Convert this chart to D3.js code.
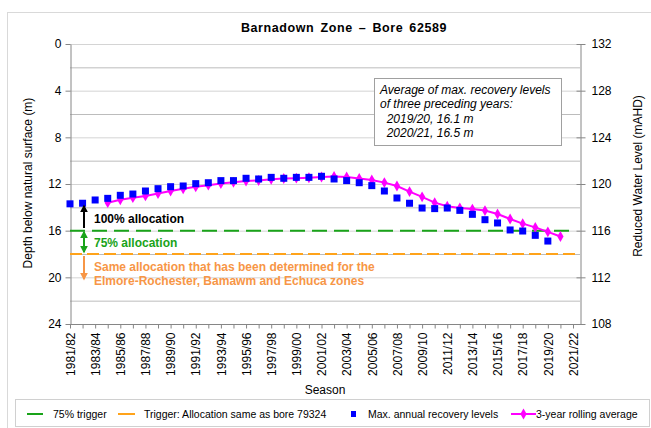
<!DOCTYPE html>
<html>
<head>
<meta charset="utf-8">
<script src="https://cdn.jsdelivr.net/npm/d3@7"></script>
<style>
  body { margin: 0; background: #fff; }
  svg { font-family: "Liberation Sans", Arial, sans-serif; }
</style>
</head>
<body>
<div id="chart"></div>
<script>
// seasons on the category axis
var seasons = ["1981/82","1982/83","1983/84","1984/85","1985/86","1986/87","1987/88","1988/89",
  "1989/90","1990/91","1991/92","1992/93","1993/94","1994/95","1995/96","1996/97","1997/98",
  "1998/99","1999/00","2000/01","2001/02","2002/03","2003/04","2004/05","2005/06","2006/07",
  "2007/08","2008/09","2009/10","2010/11","2011/12","2012/13","2013/14","2014/15","2015/16",
  "2016/17","2017/18","2018/19","2019/20","2020/21","2021/22"];

// max. annual recovery levels, depth below natural surface (m), 1981/82 - 2019/20
var maxRecovery = [13.7,13.65,13.37,13.23,12.97,12.86,12.6,12.4,12.23,12.17,11.97,11.89,11.71,
  11.71,11.51,11.57,11.43,11.51,11.43,11.43,11.34,11.57,11.71,11.89,12.14,12.6,13.2,13.65,
  14.06,14.11,14.06,14.26,14.6,15.06,15.34,15.94,16.03,16.4,16.89];

// 3-year rolling average (m), starts 1984/85, ends 2020/21
var rollingAvg = [null,null,null,13.6,13.35,13.17,13.02,12.81,12.6,12.41,12.24,12.1,11.96,11.86,
  11.75,11.7,11.6,11.53,11.5,11.46,11.4,11.35,11.4,11.52,11.66,11.88,12.17,12.65,13.1,13.6,
  13.9,14.06,14.15,14.28,14.57,15.0,15.4,15.72,16.1,16.5];

var trigger75 = 16;
var triggerSame = 18;

var depthTicks = [0,4,8,12,16,20,24];
var depthGrid = [0,2,4,6,8,10,12,14,16,18,20,22,24];
var rwlTicks = [132,128,124,120,116,112,108];
var boxLines = ["Average of max. recovery levels", "of three preceding years:", "  2019/20, 16.1 m", "  2020/21, 16.5 m"];

var W = 651, H = 428;
var plotL = 70, plotR = 580, plotT = 44, plotB = 324;

var svg = d3.select("#chart").append("svg")
  .attr("width", W)
  .attr("height", H);

// outer chart border
svg.append("rect")
  .attr("x", 7.5).attr("y", 12.5)
  .attr("width", 700).attr("height", 500)
  .attr("fill", "#fff")
  .attr("stroke", "#d9d9d9");

var x = d3.scalePoint()
  .domain(seasons)
  .range([plotL, 573]);

var y = d3.scaleLinear()
  .domain([0, 24])
  .range([plotT, plotB]);

var y2 = d3.scaleLinear()
  .domain([132, 108])
  .range([plotT, plotB]);

// gridlines
svg.append("g")
  .selectAll("line")
  .data(depthGrid)
  .enter()
  .append("line")
  .attr("x1", plotL).attr("x2", plotR)
  .attr("y1", function(d) { return y(d) + 0.5; })
  .attr("y2", function(d) { return y(d) + 0.5; })
  .attr("stroke", function(d) { return d % 4 === 0 ? "#d4d4d4" : "#bcbcbc"; })
  .attr("stroke-width", 1);

// left axis
var gl = svg.append("g")
  .attr("transform", "translate(" + (plotL + 0.5) + ",0)")
  .call(d3.axisLeft(y).tickValues(depthTicks).tickSize(5).tickSizeOuter(0).tickPadding(4));
gl.selectAll("text").style("font-size", "12px").attr("fill", "#000");

// right axis
var gr = svg.append("g")
  .attr("transform", "translate(" + (plotR + 0.5) + ",0)")
  .call(d3.axisRight(y2).tickValues(rwlTicks).tickSize(5).tickSizeOuter(0).tickPadding(6));
gr.selectAll("text").style("font-size", "12px").attr("fill", "#000");
gr.selectAll(".tick line").attr("x1", -4);

// bottom axis
var gb = svg.append("g")
  .attr("transform", "translate(0," + (plotB + 0.5) + ")")
  .call(d3.axisBottom(x).tickSize(4).tickSizeOuter(0)
    .tickFormat(function(d, i) { return i % 2 === 0 ? d : ""; }));
gb.select(".domain").attr("d", "M" + plotL + ",0H" + plotR);
gb.selectAll("text")
  .style("font-size", "12px")
  .attr("fill", "#000")
  .attr("transform", "rotate(-90)")
  .attr("x", -8)
  .attr("y", 0)
  .attr("dy", "0.35em")
  .style("text-anchor", "end");

svg.selectAll(".domain").attr("stroke", "#868686");
svg.selectAll(".tick line").attr("stroke", "#868686");

// trigger lines
svg.append("line")
  .attr("x1", plotL).attr("x2", 575)
  .attr("y1", y(triggerSame)).attr("y2", y(triggerSame))
  .attr("stroke", "#ffa31a").attr("stroke-width", 2)
  .attr("stroke-dasharray", "12,5");
svg.append("line")
  .attr("x1", plotL).attr("x2", 575)
  .attr("y1", y(trigger75)).attr("y2", y(trigger75))
  .attr("stroke", "#19a319").attr("stroke-width", 2)
  .attr("stroke-dasharray", "15,7");

// rolling average line
var line = d3.line()
  .defined(function(d) { return d !== null; })
  .x(function(d, i) { return x(seasons[i]); })
  .y(function(d) { return y(d); });

svg.append("path")
  .datum(rollingAvg)
  .attr("fill", "none")
  .attr("stroke", "#ff00ff")
  .attr("stroke-width", 2)
  .attr("d", line);

var diamond = d3.symbol().type(d3.symbolDiamond).size(34);

svg.append("g")
  .selectAll("path")
  .data(rollingAvg.map(function(d, i) { return {v: d, s: seasons[i]}; })
    .filter(function(d) { return d.v !== null; }))
  .enter()
  .append("path")
  .attr("d", diamond)
  .attr("fill", "#ff00ff")
  .attr("transform", function(d) { return "translate(" + x(d.s) + "," + y(d.v) + ")"; });

// max recovery squares
svg.append("g")
  .selectAll("rect")
  .data(maxRecovery)
  .enter()
  .append("rect")
  .attr("x", function(d, i) { return x(seasons[i]) - 3.5; })
  .attr("y", function(d) { return y(d) - 3.5; })
  .attr("width", 7)
  .attr("height", 7)
  .attr("fill", "#0000ff");

// arrows
var defs = svg.append("defs");
function marker(id, color) {
  defs.append("marker")
    .attr("id", id)
    .attr("viewBox", "0 0 10 10")
    .attr("refX", 8).attr("refY", 5)
    .attr("markerWidth", 4).attr("markerHeight", 4)
    .attr("orient", "auto-start-reverse")
    .append("path")
    .attr("d", "M0,0L10,5L0,10z")
    .attr("fill", color);
}
marker("ahBlack", "#000");
marker("ahGreen", "#19a319");
marker("ahOrange", "#f79646");

var ax = 84;
svg.append("line")
  .attr("x1", ax).attr("x2", ax)
  .attr("y1", 228).attr("y2", 206)
  .attr("stroke", "#000").attr("stroke-width", 2)
  .attr("marker-end", "url(#ahBlack)");
svg.append("line")
  .attr("x1", ax).attr("x2", ax)
  .attr("y1", 232).attr("y2", 252)
  .attr("stroke", "#19a319").attr("stroke-width", 2)
  .attr("marker-start", "url(#ahGreen)")
  .attr("marker-end", "url(#ahGreen)");
svg.append("line")
  .attr("x1", ax).attr("x2", ax)
  .attr("y1", 256).attr("y2", 279)
  .attr("stroke", "#f79646").attr("stroke-width", 2)
  .attr("marker-end", "url(#ahOrange)");

var ann = svg.append("g")
  .style("font-size", "12px")
  .style("font-weight", "bold");
ann.append("text").attr("x", 94).attr("y", 223).attr("fill", "#000").text("100% allocation");
ann.append("text").attr("x", 94).attr("y", 247).attr("fill", "#19a319").text("75% allocation");
ann.append("text").attr("x", 94).attr("y", 271).attr("fill", "#f79646")
  .text("Same allocation that has been determined for the");
ann.append("text").attr("x", 94).attr("y", 285).attr("fill", "#f79646")
  .text("Elmore-Rochester, Bamawm and Echuca zones");

// text box
svg.append("rect")
  .attr("x", 374.5).attr("y", 78.5)
  .attr("width", 187).attr("height", 67)
  .attr("fill", "#fff")
  .attr("stroke", "#a0a0a0");
svg.append("g")
  .selectAll("text")
  .data(boxLines)
  .enter()
  .append("text")
  .attr("x", 380)
  .attr("y", function(d, i) { return 94 + i * 14.4; })
  .style("font-size", "12px")
  .style("font-style", "italic")
  .style("white-space", "pre")
  .attr("xml:space", "preserve")
  .text(function(d) { return d; });

// title
svg.append("text")
  .attr("x", 344).attr("y", 32)
  .style("text-anchor", "middle")
  .style("font-size", "12.5px")
  .style("font-weight", "bold")
  .style("letter-spacing", "0.6px")
  .style("word-spacing", "2px")
  .text("Barnadown Zone \u2013 Bore 62589");

// axis titles
svg.append("text")
  .attr("transform", "translate(32," + 183 + ") rotate(-90)")
  .style("text-anchor", "middle")
  .style("font-size", "12px")
  .text("Depth below natural surface (m)");
svg.append("text")
  .attr("transform", "translate(642," + 176 + ") rotate(-90)")
  .style("text-anchor", "middle")
  .style("font-size", "12px")
  .text("Reduced Water Level (mAHD)");
svg.append("text")
  .attr("x", 325).attr("y", 394)
  .style("text-anchor", "middle")
  .style("font-size", "12px")
  .text("Season");

// legend
svg.append("rect")
  .attr("x", 15.5).attr("y", 399.5)
  .attr("width", 634).attr("height", 27)
  .attr("fill", "#fff")
  .attr("stroke", "#d0d0d0");

var lg = svg.append("g").style("font-size", "10.5px");
var ly = 414;
lg.append("line").attr("x1", 27).attr("x2", 43).attr("y1", ly).attr("y2", ly)
  .attr("stroke", "#19a319").attr("stroke-width", 2);
lg.append("text").attr("x", 53).attr("y", ly + 4).text("75% trigger");
lg.append("line").attr("x1", 118).attr("x2", 135).attr("y1", ly).attr("y2", ly)
  .attr("stroke", "#ffa31a").attr("stroke-width", 2);
lg.append("text").attr("x", 144).attr("y", ly + 4).text("Trigger: Allocation same as bore 79324");
lg.append("rect").attr("x", 351).attr("y", ly - 3).attr("width", 5).attr("height", 6)
  .attr("fill", "#0000ff");
lg.append("text").attr("x", 368).attr("y", ly + 4).text("Max. annual recovery levels");
lg.append("line").attr("x1", 511).attr("x2", 536).attr("y1", ly).attr("y2", ly)
  .attr("stroke", "#ff00ff").attr("stroke-width", 2);
lg.append("path").attr("d", diamond).attr("fill", "#ff00ff")
  .attr("transform", "translate(523.5," + ly + ")");
lg.append("text").attr("x", 536).attr("y", ly + 4).text("3-year rolling average");
</script>
</body>
</html>
